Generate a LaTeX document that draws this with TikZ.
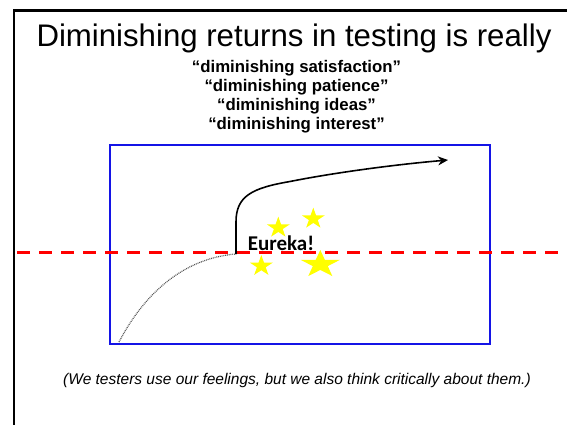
\documentclass[tikz,border=0pt]{standalone}
\usepackage{fontspec}
\setmainfont{Liberation Sans}
\newfontfamily\eurekaFont{Carlito}
\usepackage{xcolor}
\definecolor{slideFrame}{HTML}{000000}
\definecolor{plotBlue}{HTML}{1414E6}
\definecolor{thresholdRed}{HTML}{FF0000}
\definecolor{starYellow}{HTML}{FFFF00}
\definecolor{curveGray}{HTML}{555555}
\usetikzlibrary{arrows.meta,shapes.geometric}

\begin{document}
\begin{tikzpicture}[x=1pt, y=-1pt,
  subLine/.style={anchor=base, font=\bfseries\fontsize{16.8}{20}\selectfont},
  eurekaStar/.style={star, star points=5, star point ratio=2.6, fill=starYellow, draw=none, inner sep=0pt}]
  \useasboundingbox (0,0) rectangle (567,424);
  \draw[slideFrame, line width=2.5pt] (14,440) -- (14,10.5) -- (580,10.5);
  \node[anchor=base, font=\fontsize{31.2}{37}\selectfont] (title) at (294,46) {Diminishing returns in testing is really};
  \node[subLine] (satisfaction) at (296.5,72.7) {``diminishing satisfaction''};
  \node[subLine] (patience) at (296.5,91.7) {``diminishing patience''};
  \node[subLine] (ideas) at (296.5,110.7) {``diminishing ideas''};
  \node[subLine] (interest) at (296.5,129.7) {``diminishing interest''};
  \node[draw=plotBlue, line width=2pt, minimum width=380pt, minimum height=199pt, inner sep=0pt] (plotArea) at (300,244.5) {};
  \coordinate (curveStart) at (119,342);
  \coordinate (eurekaPoint) at (236,254);
  \coordinate (bendTop) at (236,222);
  \coordinate (bendEnd) at (290,181.5);
  \coordinate (arrowEnd) at (448,160);
  \draw[curveGray, line width=1.2pt, dash pattern=on 0.9pt off 0.9pt] (curveStart) .. controls (145,292) and (185,258) .. (eurekaPoint);
  \draw[black, line width=1.6pt, -{Stealth[length=10pt, width=9pt]}] (eurekaPoint) -- (bendTop) .. controls (236,196) and (252,188) .. (bendEnd) .. controls (330,173.5) and (390,165) .. (arrowEnd);
  \node[eurekaStar, minimum size=22pt, xscale=1.1] (starA) at (278.3,227.7) {};
  \node[eurekaStar, minimum size=22pt, xscale=1.1] (starB) at (313.3,218.7) {};
  \node[eurekaStar, minimum size=22pt, xscale=1.1] (starC) at (261.3,266) {};
  \node[eurekaStar, minimum size=28.8pt, xscale=1.42] (starD) at (320.3,264.4) {};
  \node[anchor=base, font=\eurekaFont\bfseries\fontsize{21}{25}\selectfont] (eureka) at (281,250) {Eureka!};
  \coordinate (lineStart) at (17,252);
  \coordinate (lineEnd) at (580,252);
  \draw[thresholdRed, line width=3pt, dash pattern=on 12.5pt off 9.5pt] (lineStart) -- (lineEnd);
  \node[anchor=base, font=\itshape\fontsize{15.5}{18}\selectfont] (footnote) at (297,384) {(We testers use our feelings, but we also think critically about them.)};
\end{tikzpicture}
\end{document}
